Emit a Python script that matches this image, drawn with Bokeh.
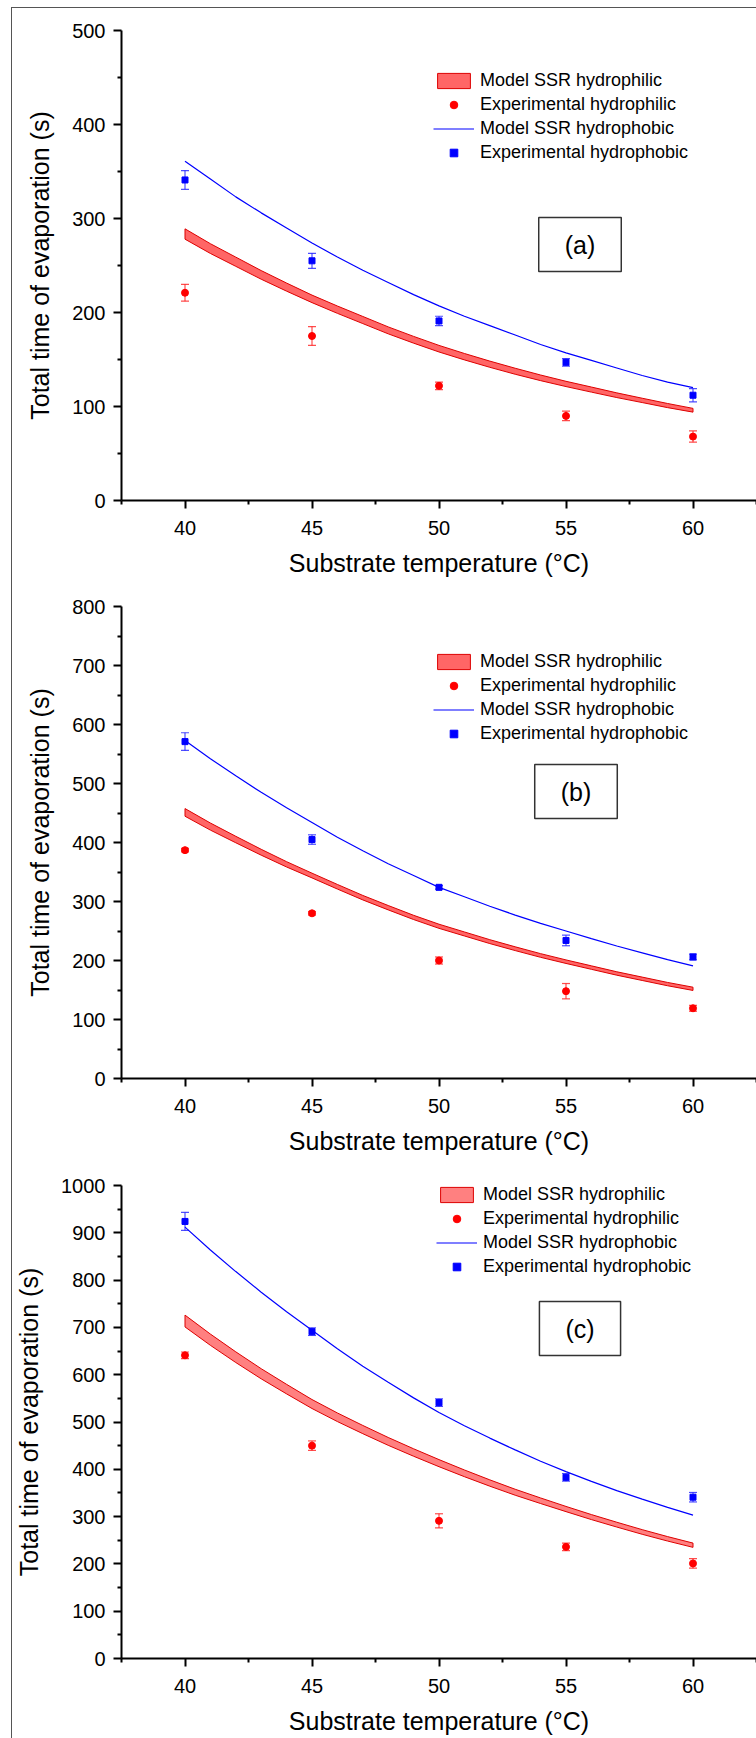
from bokeh.plotting import figure
from bokeh.layouts import column
from bokeh.models import (Range1d, FixedTicker, Whisker, TeeHead, ColumnDataSource,
                          Legend, LegendItem, Label)
from bokeh.embed import file_html
from bokeh.resources import INLINE

FONT = "Liberation Sans"

# ---------------- data ----------------
temps = [40, 45, 50, 55, 60]
model_T = [40, 41, 42, 43, 44, 45, 46, 47, 48, 49, 50,
           51, 52, 53, 54, 55, 56, 57, 58, 59, 60]

# panel (a)
exp_phil_a = [221, 175, 122, 90, 68]
err_phil_a = [9, 10, 4, 5, 6]
exp_phob_a = [341, 255, 191, 147, 112]
err_phob_a = [10, 8, 5, 4, 7]
model_phob_a = [361, 342, 323, 306, 290, 274, 259, 245, 232, 219, 207,
                196, 186, 176, 166, 157, 149, 141, 133, 126, 120]
band_mid_a = [283.5, 268, 254, 240, 227, 214.5, 203, 192, 181, 171, 161.5,
              153, 145, 137.5, 130.5, 124, 118, 112, 106.5, 101, 96]
band_hw_a = [5.5, 5.2, 4.9, 4.6, 4.3, 4.0, 3.9, 3.8, 3.7, 3.6, 3.5,
             3.4, 3.3, 3.2, 3.0, 2.8, 2.7, 2.5, 2.3, 2.2, 2.0]

# panel (b)
exp_phil_b = [387, 280, 200, 148, 119]
err_phil_b = [3, 3, 6, 13, 5]
exp_phob_b = [571, 405, 324, 234, 206]
err_phob_b = [15, 8, 3, 9, 5]
model_phob_b = [573, 542, 513, 485, 459, 434, 409, 386, 364, 344, 324,
                308, 292, 277, 263, 250, 237, 224.5, 213, 201.5, 191]
band_mid_b = [451, 427, 405, 383.5, 363, 344, 325, 306.5, 289.5, 273, 258,
              245, 232, 220, 208.5, 198, 188, 178, 169, 160, 152]
band_hw_b = [6.5, 6.0, 5.5, 5.0, 4.5, 4.0, 3.9, 3.8, 3.7, 3.6, 3.5,
             3.4, 3.3, 3.2, 3.1, 3.0, 2.95, 2.9, 2.85, 2.8, 2.75]

# panel (c)
exp_phil_c = [641, 450, 291, 236, 201]
err_phil_c = [7, 10, 15, 8, 10]
exp_phob_c = [924, 691, 541, 383, 341]
err_phob_c = [19, 8, 8, 8, 10]
model_phob_c = [912, 863.5, 818, 774.5, 733, 694, 655, 618, 584, 551, 520,
                492, 466, 441, 417, 395, 374.5, 355, 337, 319.5, 303]
band_mid_c = [713.5, 674, 637, 602, 569.5, 538, 510, 484, 459, 435.5, 413,
              391.5, 371, 351.5, 333.5, 316, 299, 283, 267.5, 253, 239.5]
band_hw_c = [12.5, 11.9, 11.3, 10.7, 10.1, 9.5, 9.1, 8.7, 8.3, 7.9, 7.5,
             7.1, 6.7, 6.3, 5.9, 5.5, 5.3, 5.1, 4.9, 4.7, 4.5]

x_ticks = [40, 45, 50, 55, 60]
x_minor = [37.5, 42.5, 47.5, 52.5, 57.5, 62.5]

labels = ["Model SSR hydrophilic", "Experimental hydrophilic",
          "Model SSR hydrophobic", "Experimental hydrophobic"]
panel_tags = ["(a)", "(b)", "(c)"]

OX = 12  # left margin + border of the outer frame


def make_panel(tag, ymax, ystep, phil, ephil, phob, ephob, mphob, bmid, bhw,
               H, mt, mb, ml, band_fill, legend_loc, tag_xy):
    p = figure(width=756 - OX, height=H, output_backend="svg", toolbar_location=None,
               x_range=Range1d(37.5, 62.5), y_range=Range1d(0, ymax),
               min_border_left=ml, min_border_right=0, min_border_top=mt,
               min_border_bottom=mb)
    p.outline_line_color = None
    p.grid.visible = False
    p.background_fill_color = "white"

    yt = list(range(0, ymax + 1, ystep))
    ym = [v + ystep / 2 for v in yt[:-1]]
    p.xaxis.ticker = FixedTicker(ticks=x_ticks, minor_ticks=x_minor)
    p.yaxis.ticker = FixedTicker(ticks=yt, minor_ticks=ym)

    for ax in (p.xaxis[0], p.yaxis[0]):
        ax.axis_line_width = 2
        ax.axis_line_color = "black"
        ax.major_tick_line_width = 2
        ax.minor_tick_line_width = 2
        ax.major_tick_out = 8
        ax.major_tick_in = 0
        ax.minor_tick_out = 4
        ax.minor_tick_in = 0
        ax.major_label_text_font = FONT
        ax.major_label_text_font_size = "20px"
        ax.major_label_text_color = "black"
        ax.axis_label_text_font = FONT
        ax.axis_label_text_font_size = "25px"
        ax.axis_label_text_font_style = "normal"
        ax.axis_label_text_color = "black"
    p.xaxis.axis_label = "Substrate temperature (\u00b0C)"
    p.yaxis.axis_label = "Total time of evaporation (s)"
    p.xaxis.major_label_standoff = 12
    p.xaxis.axis_label_standoff = 11
    p.yaxis.major_label_standoff = 8
    p.yaxis.axis_label_standoff = 15

    bup = [m + h for m, h in zip(bmid, bhw)]
    blo = [m - h for m, h in zip(bmid, bhw)]
    band = p.patch(model_T + model_T[::-1], bup + blo[::-1], fill_color=band_fill,
                   fill_alpha=1.0, line_color="#dd0000", line_width=1)
    line = p.line(model_T, mphob, line_color="#0000ff", line_width=1.2)

    src_phil = ColumnDataSource(dict(x=temps, y=phil,
                                     lo=[a - b for a, b in zip(phil, ephil)],
                                     hi=[a + b for a, b in zip(phil, ephil)]))
    src_phob = ColumnDataSource(dict(x=temps, y=phob,
                                     lo=[a - b for a, b in zip(phob, ephob)],
                                     hi=[a + b for a, b in zip(phob, ephob)]))
    for src, col in ((src_phil, "#ff2020"), (src_phob, "#2020ff")):
        w = Whisker(source=src, base="x", lower="lo", upper="hi",
                    line_color=col, line_alpha=0.8, line_width=1.2,
                    upper_head=TeeHead(size=8, line_color=col, line_alpha=0.8, line_width=1.2),
                    lower_head=TeeHead(size=8, line_color=col, line_alpha=0.8, line_width=1.2))
        p.add_layout(w)

    rc = p.scatter("x", "y", source=src_phil, marker="circle", size=7,
                   fill_color="#ff0000", line_color="#ff0000")
    bs = p.scatter("x", "y", source=src_phob, marker="square", size=6,
                   fill_color="#0000ff", line_color="#0000ff")

    legend = Legend(items=[LegendItem(label=labels[0], renderers=[band]),
                           LegendItem(label=labels[1], renderers=[rc]),
                           LegendItem(label=labels[2], renderers=[line]),
                           LegendItem(label=labels[3], renderers=[bs])],
                    location=legend_loc)
    legend.glyph_width = 41
    legend.glyph_height = 19
    legend.label_height = 20
    legend.label_text_font = FONT
    legend.label_text_font_size = "18px"
    legend.label_text_color = "black"
    legend.label_standoff = 6
    legend.spacing = 3
    legend.padding = 0
    legend.margin = 0
    legend.border_line_color = None
    legend.background_fill_alpha = 0
    p.add_layout(legend)

    lab = Label(x=tag_xy[0], y=tag_xy[1], x_units="canvas", y_units="canvas",
                text=tag, text_font=FONT, text_font_size="25px",
                text_align="center", text_baseline="middle", text_color="black",
                background_fill_color="white", border_line_color="#333333",
                border_line_width=1.5, padding=(26, 13))
    p.add_layout(lab)
    return p


pa = make_panel(panel_tags[0], 500, 100, exp_phil_a, err_phil_a, exp_phob_a, err_phob_a,
                model_phob_a, band_mid_a, band_hw_a,
                H=572, mt=22, mb=80, ml=113 - OX, band_fill="#ff6666",
                legend_loc=(312, 337), tag_xy=(579.5 - OX, 236))
pb = make_panel(panel_tags[1], 800, 100, exp_phil_b, err_phil_b, exp_phob_b, err_phob_b,
                model_phob_b, band_mid_b, band_hw_b,
                H=580, mt=26, mb=82, ml=119 - OX, band_fill="#ff6666",
                legend_loc=(312, 334), tag_xy=(575.5 - OX, 211))
pc = make_panel(panel_tags[2], 1000, 100, exp_phil_c, err_phil_c, exp_phob_c, err_phob_c,
                model_phob_c, band_mid_c, band_hw_c,
                H=578, mt=25, mb=80, ml=114 - OX, band_fill="#ff8080",
                legend_loc=(315, 381), tag_xy=(579.5 - OX, 168))

layout = column(pa, pb, pc, spacing=0, margin=(7, 0, 0, 11),
                styles={"border-left": "1px solid #555555",
                        "border-top": "1px solid #555555"})
open("out.html", "w").write(file_html(layout, INLINE))
